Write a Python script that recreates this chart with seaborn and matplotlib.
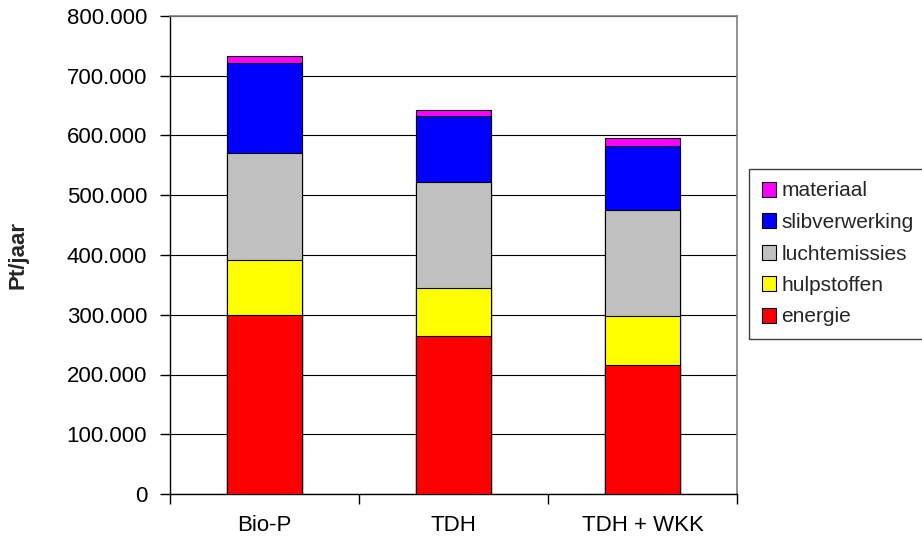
import matplotlib
matplotlib.use("Agg")
import matplotlib.pyplot as plt
from matplotlib.patches import Patch
from matplotlib.ticker import FixedLocator, FuncFormatter
import numpy as np
import pandas as pd
import seaborn as sns

# Scenario names on the x axis
scenarios = ["Bio-P", "TDH", "TDH + WKK"]

# Contribution per impact category (Pt/jaar), stacked bottom to top
energie = [299200, 264600, 216100]
hulpstoffen = [92900, 80200, 81900]
luchtemissies = [177800, 177700, 177200]
slibverwerking = [152100, 109800, 107400]
materiaal = [11100, 10500, 13400]

layer_names = ["energie", "hulpstoffen", "luchtemissies", "slibverwerking", "materiaal"]
layer_values = [energie, hulpstoffen, luchtemissies, slibverwerking, materiaal]
layer_colors = ["#FF0000", "#FFFF00", "#C0C0C0", "#0000FF", "#FF00FF"]

y_ticks = [0, 100000, 200000, 300000, 400000, 500000, 600000, 700000, 800000]

sns.set_theme(style="white")
plt.rcParams["font.family"] = ["Liberation Sans", "DejaVu Sans"]

# Cumulative heights so each layer sits on top of the previous ones
cum = np.cumsum(np.array(layer_values, dtype=float), axis=0)
frames = []
for name, tops in zip(layer_names, cum):
    frames.append(pd.DataFrame({"scenario": scenarios, "layer": name, "top": tops}))
df = pd.concat(frames, ignore_index=True)

fig = plt.figure(figsize=(9.22, 5.36), dpi=100)
ax = fig.add_axes([170 / 922, 42 / 536, 567 / 922, 478 / 536])

# Draw the tallest cumulative layer first; lower layers are painted over it
for name, color in reversed(list(zip(layer_names, layer_colors))):
    sub = df[df["layer"] == name]
    sns.barplot(data=sub, x="scenario", y="top", order=scenarios, color=color,
                saturation=1, width=0.4, edgecolor="black", linewidth=0.8,
                ax=ax, zorder=3)

ax.set_xlim(-0.5, 2.5)
ax.set_ylim(0, 800000)
ax.yaxis.set_major_locator(FixedLocator(y_ticks))
ax.yaxis.set_major_formatter(FuncFormatter(lambda v, _: f"{int(v):,}".replace(",", ".")))
ax.grid(axis="y", color="black", linewidth=0.8, zorder=0)
ax.grid(axis="x", visible=False)
ax.set_axisbelow(True)

ax.set_xlabel("")
ax.set_ylabel("Pt/jaar", fontsize=16, fontweight="bold")
ax.yaxis.set_label_coords(-0.249, 0.5)

# Category labels centred under bars, tick marks between categories
ax.set_xticks([0, 1, 2])
ax.set_xticklabels(scenarios)
ax.set_xticks([-0.5, 0.5, 1.5, 2.5], minor=True)
ax.tick_params(axis="x", which="major", length=0, pad=15, labelsize=16, colors="black")
ax.tick_params(axis="x", which="minor", length=7, width=1, direction="out",
               bottom=True, color="black")
ax.tick_params(axis="y", which="major", length=7, width=1, direction="out",
               left=True, pad=9.5, labelsize=16, colors="black")

for side in ["left", "bottom"]:
    ax.spines[side].set_color("black")
    ax.spines[side].set_linewidth(1)
for side in ["top", "right"]:
    ax.spines[side].set_color("#808080")
    ax.spines[side].set_linewidth(1.2)

# Legend lists the layers from top to bottom of the stack
handles = [Patch(facecolor=c, edgecolor="black", linewidth=0.8, label=n)
           for n, c in zip(layer_names, layer_colors)]
handles = handles[::-1]
leg = fig.legend(handles=handles, loc="upper left",
                 bbox_to_anchor=(749 / 922, 1 - 169 / 536),
                 fontsize=15, frameon=True, fancybox=False, framealpha=1,
                 edgecolor="#404040", handlelength=0.7, handleheight=0.7,
                 handletextpad=0.25, labelspacing=0.6, borderpad=0.6,
                 borderaxespad=0)
leg.get_frame().set_linewidth(1)

fig.savefig("out.png", dpi=100, facecolor="white")
